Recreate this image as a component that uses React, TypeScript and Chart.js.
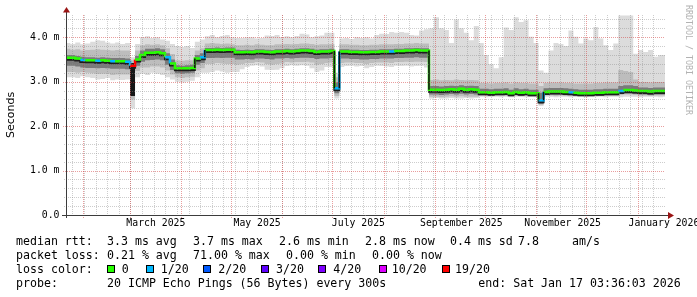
import React, { useEffect, useRef } from 'react';
import { Chart, registerables } from 'chart.js';

Chart.register(...registerables);

// ---------------- data (days counted from 1 Jan 2025) ----------------
const binStartDay = 20;
const binDays = 3;
const xMinDay = 20.4;
const xMaxDay = 381.15;

// median round-trip time, milliseconds, one value per 3-day bin
const medianRtt = [
  3.54, 3.54, 3.52, 3.49, 3.48, 3.48, 3.47, 3.48, 3.47, 3.46,
  3.46, 3.46, 3.45, 3.36, 3.50, 3.60, 3.65, 3.65, 3.66, 3.64,
  3.55, 3.41, 3.30, 3.30, 3.30, 3.31, 3.52, 3.55, 3.71, 3.71,
  3.72, 3.71, 3.72, 3.72, 3.66, 3.66, 3.67, 3.66, 3.68, 3.68,
  3.67, 3.66, 3.68, 3.68, 3.69, 3.68, 3.69, 3.70, 3.70, 3.69,
  3.67, 3.68, 3.68, 3.69, 2.85, 3.68, 3.68, 3.67, 3.67, 3.66,
  3.66, 3.67, 3.67, 3.68, 3.68, 3.68, 3.69, 3.69, 3.70, 3.70,
  3.71, 3.70, 3.70, 2.82, 2.82, 2.81, 2.82, 2.83, 2.82, 2.84,
  2.82, 2.83, 2.82, 2.76, 2.76, 2.75, 2.76, 2.76, 2.77, 2.74,
  2.77, 2.75, 2.76, 2.74, 2.74, 2.58, 2.77, 2.78, 2.78, 2.78,
  2.77, 2.76, 2.75, 2.74, 2.74, 2.74, 2.75, 2.75, 2.76, 2.76,
  2.76, 2.79, 2.81, 2.81, 2.80, 2.79, 2.79, 2.78, 2.79, 2.79,
  2.79,
];

// smoke: slowest ping of the bin
const smokeMax = [
  3.87, 3.85, 3.88, 3.84, 3.86, 3.90, 3.93, 3.92, 3.88, 3.86,
  3.88, 3.85, 3.87, 3.55, 3.85, 4.00, 4.02, 3.98, 4.00, 3.95,
  3.92, 3.85, 3.80, 3.78, 3.80, 3.76, 3.90, 3.95, 4.02, 4.05,
  4.00, 4.03, 4.05, 4.00, 3.98, 3.98, 4.00, 4.00, 3.97, 3.98,
  4.04, 4.03, 4.05, 4.00, 4.02, 4.00, 4.03, 4.08, 4.06, 4.00,
  4.02, 4.04, 4.10, 4.10, 3.20, 3.97, 3.98, 3.96, 4.00, 3.98,
  4.00, 3.97, 4.05, 4.08, 4.07, 4.12, 4.10, 4.12, 4.10, 4.05,
  4.04, 4.15, 4.18, 4.20, 4.45, 4.20, 4.16, 3.87, 4.40, 4.20,
  4.10, 3.93, 4.25, 3.87, 3.60, 3.40, 3.30, 3.55, 4.22, 4.16,
  4.45, 4.34, 4.38, 4.01, 3.87, 3.25, 3.20, 3.70, 3.87, 3.85,
  3.80, 4.15, 4.01, 3.86, 3.97, 3.93, 4.23, 3.97, 3.82, 3.71,
  3.86, 4.49, 4.49, 4.49, 3.63, 3.71, 3.67, 3.71, 3.56, 3.60,
  3.60,
];

// smoke: outer-upper band edge
const smokeUpperOuter = [
  3.74, 3.72, 3.73, 3.70, 3.71, 3.72, 3.73, 3.72, 3.71, 3.70,
  3.71, 3.70, 3.70, 3.48, 3.70, 3.82, 3.84, 3.83, 3.84, 3.82,
  3.75, 3.62, 3.48, 3.47, 3.48, 3.48, 3.70, 3.75, 3.86, 3.87,
  3.86, 3.85, 3.86, 3.84, 3.82, 3.82, 3.83, 3.82, 3.84, 3.83,
  3.82, 3.82, 3.84, 3.84, 3.85, 3.84, 3.85, 3.86, 3.86, 3.85,
  3.83, 3.84, 3.84, 3.85, 3.10, 3.84, 3.84, 3.83, 3.83, 3.82,
  3.82, 3.83, 3.83, 3.84, 3.84, 3.84, 3.85, 3.85, 3.86, 3.86,
  3.87, 3.86, 3.86, 3.04, 3.05, 3.03, 3.04, 3.03, 3.05, 3.04,
  3.03, 3.04, 3.03, 2.97, 2.97, 2.96, 2.97, 2.97, 2.98, 2.96,
  2.98, 2.97, 2.97, 2.96, 2.96, 2.90, 2.97, 2.98, 2.98, 2.98,
  2.97, 2.97, 2.96, 2.96, 2.96, 2.96, 2.97, 2.97, 2.98, 2.98,
  2.98, 3.26, 3.24, 3.22, 3.05, 2.99, 2.99, 2.98, 2.99, 2.99,
  2.99,
];

// smoke: inner-upper band edge
const smokeUpperInner = [
  3.60, 3.60, 3.58, 3.56, 3.55, 3.55, 3.54, 3.55, 3.54, 3.53,
  3.53, 3.53, 3.52, 3.42, 3.58, 3.70, 3.74, 3.74, 3.75, 3.73,
  3.64, 3.50, 3.37, 3.36, 3.37, 3.38, 3.60, 3.64, 3.76, 3.76,
  3.77, 3.76, 3.77, 3.77, 3.72, 3.71, 3.72, 3.71, 3.73, 3.73,
  3.72, 3.71, 3.73, 3.73, 3.74, 3.73, 3.74, 3.75, 3.75, 3.74,
  3.72, 3.73, 3.73, 3.74, 2.98, 3.73, 3.73, 3.72, 3.72, 3.71,
  3.71, 3.72, 3.72, 3.73, 3.73, 3.73, 3.74, 3.74, 3.75, 3.75,
  3.76, 3.75, 3.75, 2.90, 2.90, 2.89, 2.90, 2.91, 2.90, 2.92,
  2.90, 2.91, 2.90, 2.84, 2.84, 2.83, 2.84, 2.84, 2.85, 2.82,
  2.85, 2.83, 2.84, 2.82, 2.82, 2.75, 2.85, 2.86, 2.86, 2.86,
  2.85, 2.84, 2.83, 2.82, 2.82, 2.82, 2.83, 2.83, 2.84, 2.84,
  2.84, 2.90, 2.92, 2.92, 2.90, 2.87, 2.87, 2.86, 2.87, 2.87,
  2.87,
];

// smoke: inner-lower band edge
const smokeLowerInner = [
  3.36, 3.36, 3.34, 3.32, 3.31, 3.31, 3.30, 3.31, 3.30, 3.29,
  3.29, 3.29, 3.28, 2.68, 3.36, 3.45, 3.48, 3.49, 3.50, 3.48,
  3.38, 3.26, 3.19, 3.18, 3.19, 3.20, 3.38, 3.42, 3.53, 3.53,
  3.54, 3.53, 3.54, 3.54, 3.50, 3.50, 3.51, 3.50, 3.52, 3.52,
  3.51, 3.50, 3.52, 3.52, 3.53, 3.52, 3.53, 3.54, 3.54, 3.53,
  3.51, 3.52, 3.52, 3.53, 2.74, 3.52, 3.52, 3.51, 3.51, 3.50,
  3.50, 3.51, 3.51, 3.52, 3.52, 3.52, 3.53, 3.53, 3.54, 3.54,
  3.55, 3.54, 3.54, 2.71, 2.71, 2.70, 2.71, 2.72, 2.71, 2.73,
  2.71, 2.72, 2.71, 2.70, 2.70, 2.69, 2.70, 2.70, 2.70, 2.68,
  2.70, 2.69, 2.70, 2.68, 2.68, 2.50, 2.71, 2.71, 2.71, 2.71,
  2.70, 2.70, 2.69, 2.68, 2.68, 2.68, 2.69, 2.69, 2.70, 2.70,
  2.70, 2.72, 2.73, 2.73, 2.72, 2.71, 2.71, 2.70, 2.71, 2.71,
  2.71,
];

// smoke: outer-lower band edge
const smokeLowerOuter = [
  3.22, 3.22, 3.20, 3.22, 3.20, 3.19, 3.17, 3.18, 3.18, 3.15,
  3.16, 3.16, 3.16, 2.60, 3.24, 3.32, 3.32, 3.34, 3.34, 3.32,
  3.25, 3.16, 3.10, 3.08, 3.10, 3.11, 3.25, 3.30, 3.40, 3.40,
  3.42, 3.41, 3.40, 3.40, 3.38, 3.40, 3.42, 3.42, 3.44, 3.43,
  3.40, 3.38, 3.40, 3.41, 3.44, 3.43, 3.44, 3.44, 3.45, 3.43,
  3.38, 3.40, 3.42, 3.43, 2.68, 3.42, 3.43, 3.43, 3.42, 3.42,
  3.40, 3.42, 3.43, 3.43, 3.43, 3.42, 3.44, 3.44, 3.45, 3.44,
  3.45, 3.45, 3.44, 2.66, 2.66, 2.65, 2.66, 2.67, 2.66, 2.67,
  2.66, 2.66, 2.66, 2.68, 2.68, 2.67, 2.68, 2.68, 2.68, 2.66,
  2.68, 2.67, 2.68, 2.66, 2.66, 2.48, 2.69, 2.69, 2.68, 2.69,
  2.68, 2.68, 2.67, 2.67, 2.66, 2.67, 2.67, 2.68, 2.68, 2.68,
  2.68, 2.70, 2.71, 2.71, 2.70, 2.69, 2.69, 2.68, 2.69, 2.69,
  2.69,
];

// smoke: fastest ping of the bin
const smokeMin = [
  3.10, 3.10, 3.08, 3.12, 3.10, 3.08, 3.05, 3.06, 3.08, 3.03,
  3.05, 3.04, 3.05, 2.40, 3.10, 3.18, 3.15, 3.20, 3.18, 3.15,
  3.10, 3.05, 3.00, 2.98, 3.00, 3.02, 3.10, 3.20, 3.20, 3.22,
  3.25, 3.23, 3.20, 3.22, 3.22, 3.28, 3.33, 3.36, 3.37, 3.34,
  3.27, 3.26, 3.27, 3.30, 3.35, 3.37, 3.36, 3.37, 3.36, 3.30,
  3.22, 3.25, 3.33, 3.33, 2.62, 3.33, 3.35, 3.36, 3.34, 3.35,
  3.30, 3.33, 3.36, 3.35, 3.34, 3.33, 3.36, 3.35, 3.36, 3.34,
  3.35, 3.36, 3.32, 2.62, 2.63, 2.62, 2.62, 2.63, 2.62, 2.62,
  2.63, 2.62, 2.63, 2.66, 2.65, 2.66, 2.66, 2.65, 2.66, 2.65,
  2.66, 2.66, 2.65, 2.66, 2.65, 2.45, 2.66, 2.66, 2.65, 2.66,
  2.66, 2.65, 2.66, 2.66, 2.65, 2.66, 2.66, 2.66, 2.65, 2.66,
  2.66, 2.65, 2.66, 2.66, 2.66, 2.65, 2.66, 2.66, 2.66, 2.65,
  2.66,
];

// lost pings out of 20, per bin
const lossCount = [
  0, 0, 0, 1, 0, 0, 1, 0, 0, 1,
  0, 0, 1, 19, 0, 0, 0, 0, 0, 0,
  1, 0, 0, 0, 0, 0, 0, 1, 0, 0,
  0, 0, 0, 0, 0, 0, 0, 0, 0, 0,
  0, 0, 0, 0, 0, 0, 0, 0, 0, 0,
  0, 0, 0, 0, 1, 0, 0, 0, 0, 0,
  0, 0, 0, 0, 0, 1, 0, 0, 0, 0,
  0, 0, 0, 0, 0, 0, 0, 0, 0, 0,
  0, 0, 0, 0, 0, 0, 0, 0, 0, 0,
  0, 0, 0, 0, 0, 1, 0, 0, 0, 0,
  0, 1, 0, 0, 0, 0, 0, 0, 0, 0,
  0, 1, 0, 0, 0, 0, 0, 0, 0, 0,
  0,
];

const lossSteps = [0, 1, 2, 3, 4, 10, 19];
const lossColors = ['#26ff00', '#00b8ff', '#0059ff', '#5e00ff', '#7e00ff', '#dd00ff', '#ff0000'];
const lossLabels = ['0', '1/20', '2/20', '3/20', '4/20', '10/20', '19/20'];

const monthStartDays = [31, 59, 90, 120, 151, 181, 212, 243, 273, 304, 334, 365];
const labelMonthStartDays = [59, 120, 181, 243, 304, 365];
const monthLabels = ['March 2025', 'May 2025', 'July 2025', 'September 2025', 'November 2025', 'January 2026'];
const firstWeekLineDay = 3.5;
const yTickValues = [0, 1, 2, 3, 4];

const rowTitles = ['median rtt:', 'packet loss:', 'loss color:', 'probe:'];
const rttStats = ['3.3 ms avg', '3.7 ms max', '2.6 ms min', '2.8 ms now', '0.4 ms sd'];
const amPerSec = '7.8';
const lossStats = ['0.21 % avg', '71.00 % max', '0.00 % min', '0.00 % now'];
const probeText = '20 ICMP Echo Pings (56 Bytes) every 300s';
const endText = 'end: Sat Jan 17 03:36:03 2026';
const watermark = 'RRDTOOL / TOBI OETIKER';

// ---------------- helpers ----------------
function lossColor(n: number): string {
  let c = lossColors[0];
  for (let i = 0; i < lossSteps.length; i++) if (n >= lossSteps[i]) c = lossColors[i];
  return c;
}

function toPoints(values: number[]) {
  const pts = values.map((v, i) => ({ x: binStartDay + i * binDays, y: v }));
  pts.push({ x: binStartDay + values.length * binDays, y: values[values.length - 1] });
  return pts;
}

const MONO = '"DejaVu Sans Mono", monospace';
const JUMP = 0.15; // median steps larger than this are drawn as dark smoke edges
const STEP = 'before' as const; // value of bin k holds from its start to the next bin

const rrdPlugin = {
  id: 'rrdDecor',
  beforeDatasetDraw(chart: any, args: any) {
    if (args.index === 1) {
      chart.ctx.save();
      chart.ctx.translate(0, 2);
    }
  },
  afterDatasetDraw(chart: any, args: any) {
    if (args.index === 1) chart.ctx.restore();
  },
  afterDatasetsDraw(chart: any) {
    const { ctx, chartArea: a, scales } = chart;
    const xs = scales.x;
    const ys = scales.y;
    ctx.save();

    // dark edges where the median jumps between bins
    ctx.strokeStyle = '#141414';
    ctx.lineWidth = 1.6;
    for (let k = 0; k < medianRtt.length - 1; k++) {
      if (Math.abs(medianRtt[k + 1] - medianRtt[k]) <= JUMP) continue;
      const px = xs.getPixelForValue(binStartDay + (k + 1) * binDays);
      ctx.beginPath();
      ctx.moveTo(px, ys.getPixelForValue(medianRtt[k]));
      ctx.lineTo(px, ys.getPixelForValue(medianRtt[k + 1]));
      ctx.stroke();
    }

    ctx.lineWidth = 1;
    ctx.setLineDash([1, 1]);
    const minorColor = 'rgba(135,135,135,0.42)';
    const majorColor = 'rgba(210,50,50,0.48)';
    const hLine = (v: number, color: string, ext: number) => {
      const py = Math.round(ys.getPixelForValue(v)) + 0.5;
      ctx.strokeStyle = color;
      ctx.beginPath();
      ctx.moveTo(a.left - ext, py);
      ctx.lineTo(a.right, py);
      ctx.stroke();
    };
    const vLine = (d: number, color: string, ext: number) => {
      const px = Math.floor(xs.getPixelForValue(d)) + 0.5;
      if (px < a.left || px > a.right) return;
      ctx.strokeStyle = color;
      ctx.beginPath();
      ctx.moveTo(px, a.top);
      ctx.lineTo(px, a.bottom + ext);
      ctx.stroke();
    };
    for (let i = 1; i <= 22; i++) {
      if (i % 5 === 0) continue;
      hLine(i * 0.2, minorColor, 2);
    }
    for (let d = firstWeekLineDay; d <= xMaxDay; d += 7) {
      if (d >= xMinDay) vLine(d, minorColor, 2);
    }
    for (const v of yTickValues) if (v > 0) hLine(v, majorColor, 3);
    for (const d of monthStartDays) vLine(d, majorColor, 3);

    // axes
    ctx.setLineDash([]);
    ctx.strokeStyle = '#3c3c3c';
    const y0 = Math.round(ys.getPixelForValue(0)) + 0.5;
    const x0 = Math.round(a.left) + 0.5;
    ctx.beginPath();
    ctx.moveTo(a.left - 4, y0);
    ctx.lineTo(a.right + 4, y0);
    ctx.moveTo(x0, a.bottom + 3);
    ctx.lineTo(x0, a.top - 3);
    ctx.stroke();
    ctx.fillStyle = '#9a1414';
    ctx.beginPath();
    ctx.moveTo(a.right + 9, y0);
    ctx.lineTo(a.right + 3, y0 - 3.5);
    ctx.lineTo(a.right + 3, y0 + 3.5);
    ctx.closePath();
    ctx.fill();
    ctx.beginPath();
    ctx.moveTo(x0, a.top - 8);
    ctx.lineTo(x0 - 3.5, a.top - 2.5);
    ctx.lineTo(x0 + 3.5, a.top - 2.5);
    ctx.closePath();
    ctx.fill();
    ctx.restore();
  },
  afterDraw(chart: any) {
    const ctx = chart.ctx;
    ctx.save();
    ctx.fillStyle = '#000';
    ctx.font = `11.6px ${MONO}`;
    ctx.textBaseline = 'alphabetic';
    const rows = [244.5, 258.7, 273, 287.3];
    rowTitles.forEach((t, i) => ctx.fillText(t, 16, rows[i]));

    const r1x = [107, 193, 279, 365, 450];
    rttStats.forEach((t, i) => ctx.fillText(t, r1x[i], rows[0]));
    ctx.fillText(amPerSec, 518, rows[0]);
    ctx.fillText('am/s', 572, rows[0]);

    const r2x = [107, 193, 286, 372];
    lossStats.forEach((t, i) => ctx.fillText(t, r2x[i], rows[1]));

    const boxX = [107, 146, 203, 261, 318, 379, 442];
    const labX = [121.7, 160.7, 218.3, 276, 333.3, 391.7, 455];
    lossLabels.forEach((t, i) => {
      ctx.fillStyle = lossColors[i];
      ctx.fillRect(boxX[i], 265, 8, 8);
      ctx.strokeStyle = '#000';
      ctx.lineWidth = 1;
      ctx.strokeRect(boxX[i] + 0.5, 265.5, 7, 7);
      ctx.fillStyle = '#000';
      ctx.fillText(t, labX[i], rows[2]);
    });

    ctx.fillText(probeText, 107, rows[3]);
    ctx.fillText(endText, 478.3, rows[3]);

    // watermark
    ctx.translate(692, 5);
    ctx.rotate(Math.PI / 2);
    ctx.font = `8.3px ${MONO}`;
    ctx.fillStyle = '#b2b2b2';
    ctx.textBaseline = 'top';
    ctx.fillText(watermark, 0, 0);
    ctx.restore();
  },
};

export default function App() {
  const canvasRef = useRef<HTMLCanvasElement | null>(null);

  useEffect(() => {
    const canvas = canvasRef.current;
    if (!canvas) return;
    const band = {
      pointRadius: 0,
      borderWidth: 0,
      borderColor: 'rgba(0,0,0,0)',
      stepped: STEP,
      tension: 0,
    };
    const chart = new Chart(canvas, {
      type: 'line',
      data: {
        datasets: [
          {
            label: 'median',
            data: toPoints(medianRtt),
            pointRadius: 0,
            borderWidth: 2.5,
            borderColor: lossColors[0],
            stepped: STEP,
            fill: false,
            borderCapStyle: 'butt',
            segment: {
              borderColor: (c: any) => lossColor(lossCount[c.p0DataIndex] ?? 0),
            },
          },
          {
            label: 'medianShade',
            data: toPoints(medianRtt),
            pointRadius: 0,
            borderWidth: 2,
            borderColor: '#1c1c1c',
            stepped: STEP,
            fill: false,
          },
          {
            ...band,
            label: 'hi1',
            data: toPoints(smokeUpperInner),
            fill: 5,
            backgroundColor: '#7a7a7a',
            segment: {
              backgroundColor: (c: any) => {
                const k = c.p0DataIndex;
                const spread = (smokeUpperInner[k] ?? 0) - (smokeLowerInner[k] ?? 0);
                return spread > 0.5 ? '#161616' : undefined;
              },
            },
          },
          { ...band, label: 'hi2', data: toPoints(smokeUpperOuter), fill: 6, backgroundColor: '#bdbdbd' },
          { ...band, label: 'max', data: toPoints(smokeMax), fill: 7, backgroundColor: '#dcdcdc' },
          { ...band, label: 'lo1', data: toPoints(smokeLowerInner), fill: false },
          { ...band, label: 'lo2', data: toPoints(smokeLowerOuter), fill: false },
          { ...band, label: 'min', data: toPoints(smokeMin), fill: false },
        ] as any,
      },
      options: {
        responsive: false,
        animation: false,
        devicePixelRatio: 1,
        events: [],
        layout: { padding: { left: 0, right: 32, top: 15, bottom: 0 } },
        plugins: {
          legend: { display: false },
          tooltip: { enabled: false },
          title: { display: false },
        },
        scales: {
          x: {
            type: 'linear',
            min: xMinDay,
            max: xMaxDay,
            grid: { display: false, drawTicks: false },
            border: { display: false },
            afterBuildTicks: (s: any) => {
              s.ticks = labelMonthStartDays.map((d) => ({ value: d + 15.5 }));
            },
            afterFit: (s: any) => {
              s.height = 82;
              s.paddingLeft = 0;
              s.paddingRight = 0;
            },
            ticks: {
              autoSkip: false,
              maxRotation: 0,
              minRotation: 0,
              padding: 3,
              color: '#000',
              font: { family: MONO, size: 9.8 },
              callback: (_v: any, i: number) => monthLabels[i],
            },
          },
          y: {
            type: 'linear',
            min: 0,
            max: 4.5,
            grid: { display: false, drawTicks: false },
            border: { display: false },
            afterBuildTicks: (s: any) => {
              s.ticks = yTickValues.map((v) => ({ value: v }));
            },
            afterFit: (s: any) => {
              s.width = 66;
              s.paddingTop = 0;
              s.paddingBottom = 0;
            },
            ticks: {
              padding: 6.5,
              color: '#000',
              font: { family: MONO, size: 9.8 },
              callback: (v: any) => (Number(v) === 0 ? '0.0' : Number(v).toFixed(1) + ' m'),
            },
            title: {
              display: true,
              text: 'Seconds',
              color: '#000',
              font: { family: '"DejaVu Sans", sans-serif', size: 11 },
              padding: { top: 5, bottom: 0 },
            },
          },
        },
      } as any,
      plugins: [rrdPlugin],
    });
    return () => chart.destroy();
  }, []);

  return (
    <div style={{ position: 'fixed', left: 0, top: 0, width: 697, height: 297, background: '#fff' }}>
      <canvas ref={canvasRef} width={697} height={297} style={{ display: 'block', width: 697, height: 297 }} />
    </div>
  );
}
